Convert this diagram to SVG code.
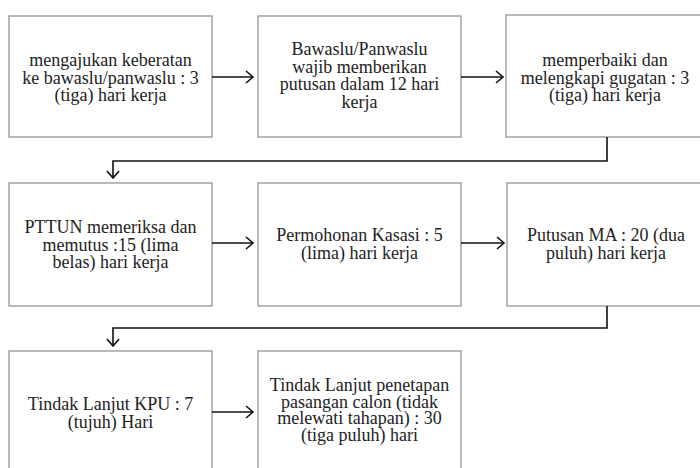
<svg xmlns="http://www.w3.org/2000/svg" width="700" height="468" viewBox="0 0 700 468">
<style>
.box{fill:#fff;stroke:#8a8a8a;stroke-width:1.2}
.t{font-family:"Liberation Serif","Times New Roman",serif;font-size:18px;fill:#222;text-anchor:middle}
.c{fill:none;stroke:#111;stroke-width:1.6}
.h{fill:none;stroke:#111;stroke-width:1.6;stroke-linejoin:miter}
</style>
<rect width="700" height="468" fill="#fff"/>
<g id="n1"><rect class="box" x="9" y="16" width="203" height="121"/>
<text class="t" x="110.5" y="66">mengajukan keberatan</text>
<text class="t" x="110.5" y="83.5">ke bawaslu/panwaslu : 3</text>
<text class="t" x="110.5" y="101">(tiga) hari kerja</text></g>
<g id="n2"><rect class="box" x="258" y="16" width="203" height="121"/>
<text class="t" x="359.5" y="55">Bawaslu/Panwaslu</text>
<text class="t" x="359.5" y="72.5">wajib memberikan</text>
<text class="t" x="359.5" y="90">putusan dalam 12 hari</text>
<text class="t" x="359.5" y="107.5">kerja</text></g>
<g id="n3"><rect class="box" x="506" y="15" width="200" height="122"/>
<text class="t" x="605" y="66">memperbaiki dan</text>
<text class="t" x="605" y="83.5">melengkapi gugatan : 3</text>
<text class="t" x="605" y="101">(tiga) hari kerja</text></g>
<g id="n4"><rect class="box" x="9" y="183" width="203" height="123"/>
<text class="t" x="110.5" y="233">PTTUN memeriksa dan</text>
<text class="t" x="110.5" y="250.5">memutus :15 (lima</text>
<text class="t" x="110.5" y="268">belas) hari kerja</text></g>
<g id="n5"><rect class="box" x="258" y="183" width="203" height="123"/>
<text class="t" x="359.5" y="241">Permohonan Kasasi : 5</text>
<text class="t" x="359.5" y="258.5">(lima) hari kerja</text></g>
<g id="n6"><rect class="box" x="507" y="183" width="199" height="123"/>
<text class="t" x="606" y="241">Putusan MA : 20 (dua</text>
<text class="t" x="606" y="258.5">puluh) hari kerja</text></g>
<g id="n7"><rect class="box" x="9" y="351" width="203" height="125"/>
<text class="t" x="110.5" y="410">Tindak Lanjut KPU : 7</text>
<text class="t" x="110.5" y="427.5">(tujuh) Hari</text></g>
<g id="n8"><rect class="box" x="258" y="351" width="203" height="125"/>
<text class="t" x="359.5" y="391">Tindak Lanjut penetapan</text>
<text class="t" x="359.5" y="407.5">pasangan calon (tidak</text>
<text class="t" x="359.5" y="424">melewati tahapan) : 30</text>
<text class="t" x="359.5" y="440.5">(tiga puluh) hari</text></g>
<g id="connectors">
<path class="c" d="M212 77H253"/><path class="h" d="M246 71L253 77L246 83"/>
<path class="c" d="M461 77H503"/><path class="h" d="M496 71L503 77L496 83"/>
<path class="c" d="M607 137V161H113V178"/><path class="h" d="M107 171L113 178L119 171"/>
<path class="c" d="M212 243H253"/><path class="h" d="M246 237L253 243L246 249"/>
<path class="c" d="M461 243H504"/><path class="h" d="M497 237L504 243L497 249"/>
<path class="c" d="M607 306V328H113V346"/><path class="h" d="M107 339L113 346L119 339"/>
<path class="c" d="M212 412H253"/><path class="h" d="M246 406L253 412L246 418"/>
</g>
</svg>
